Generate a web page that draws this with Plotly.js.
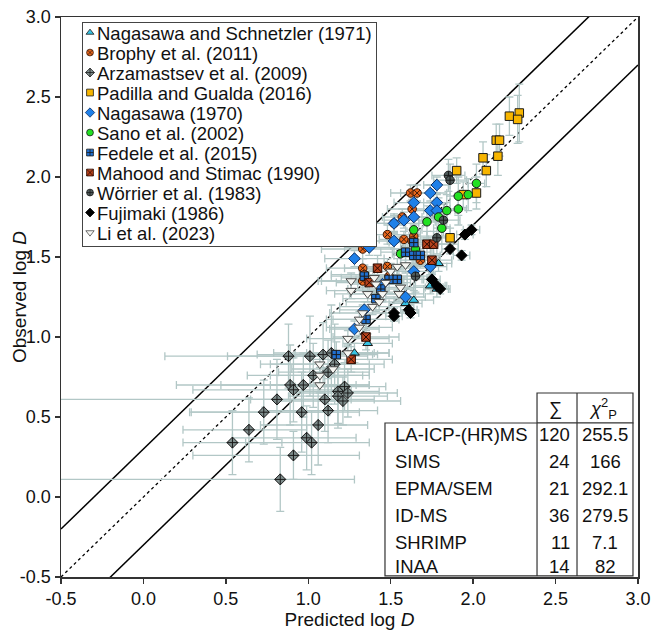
<!DOCTYPE html>
<html>
<head>
<meta charset="utf-8">
<script src="https://cdn.plot.ly/plotly-3.0.1.min.js"></script>
<style>html,body{margin:0;padding:0;background:#fff;}</style>
</head>
<body>
<div id="chart" style="width:666px;height:632px;"></div>
<script>
// ---------------- DATA ----------------
const seriesNames = ["Nagasawa and Schnetzler (1971)", "Brophy et al. (2011)", "Arzamastsev et al. (2009)",
  "Padilla and Gualda (2016)", "Nagasawa (1970)", "Sano et al. (2002)", "Fedele et al. (2015)",
  "Mahood and Stimac (1990)", "Wörrier et al. (1983)", "Fujimaki (1986)", "Li et al. (2023)"];

const nsX = [1.74, 1.78, 1.64, 1.59, 1.79, 1.36, 1.28];
const nsY = [1.32, 1.30, 1.23, 1.21, 1.46, 0.96, 0.90];
const nsXErr = [0.10, 0.08, 0.12, 0.10, 0.08, 0.15, 0.12];
const nsYErr = [0.05, 0.05, 0.06, 0.05, 0.05, 0.06, 0.06];

const brX = [1.62, 1.66, 1.63, 1.57, 1.52, 1.48, 1.58, 1.64, 1.33, 1.48, 1.33, 1.34, 1.33, 1.49, 1.68, 1.63];
const brY = [1.90, 1.90, 1.80, 1.75, 1.71, 1.64, 1.61, 1.63, 1.55, 1.44, 1.43, 1.39, 1.35, 1.38, 1.48, 1.60];
const brXErr = [0.12, 0.10, 0.15, 0.12, 0.18, 0.20, 0.15, 0.12, 0.25, 0.15, 0.22, 0.20, 0.25, 0.18, 0.12, 0.15];
const brYErr = [0.05, 0.05, 0.06, 0.05, 0.06, 0.06, 0.05, 0.05, 0.06, 0.05, 0.06, 0.05, 0.06, 0.05, 0.05, 0.05];

const arX = [0.88, 1.01, 1.09, 1.14, 1.16, 1.03, 1.12, 0.89, 0.91, 0.97, 0.81, 1.10, 1.22, 1.24, 1.18, 1.18, 1.21, 0.73, 0.96, 1.12, 0.64, 1.06, 0.54, 0.99, 1.02, 0.91, 0.83];
const arY = [0.88, 0.88, 0.89, 0.90, 0.83, 0.76, 0.78, 0.70, 0.67, 0.70, 0.61, 0.61, 0.69, 0.65, 0.66, 0.63, 0.60, 0.53, 0.53, 0.54, 0.42, 0.45, 0.34, 0.37, 0.34, 0.26, 0.11];
const arXErrMinus = [0.75, 0.50, 0.40, 0.35, 0.45, 0.40, 0.30, 0.69, 0.61, 0.50, 1.75, 0.45, 0.30, 0.35, 0.25, 0.30, 0.40, 0.45, 0.67, 0.40, 0.40, 0.35, 0.30, 0.45, 0.40, 0.61, 1.80];
const arXErrPlus = [0.30, 0.35, 0.30, 0.35, 0.30, 0.30, 0.25, 0.40, 0.35, 0.40, 0.45, 0.30, 0.25, 0.30, 0.25, 0.30, 0.35, 0.40, 0.35, 0.30, 0.35, 0.30, 0.30, 0.30, 0.35, 0.40, 0.45];
const arYErr = [0.20, 0.25, 0.20, 0.30, 0.25, 0.20, 0.20, 0.25, 0.20, 0.20, 0.25, 0.20, 0.15, 0.15, 0.20, 0.20, 0.15, 0.20, 0.25, 0.20, 0.20, 0.25, 0.20, 0.20, 0.20, 0.15, 0.20];

const pgX = [2.22, 2.28, 2.27, 2.14, 2.16, 2.06, 2.15, 2.08, 1.90, 2.02, 1.94, 1.86];
const pgY = [2.38, 2.40, 2.36, 2.23, 2.23, 2.12, 2.13, 2.04, 2.04, 1.90, 1.89, 1.62];
const pgXErr = [0, 0, 0, 0, 0, 0, 0, 0, 0, 0, 0, 0];
const pgYErr = [0.12, 0.18, 0.15, 0.10, 0.10, 0.10, 0.12, 0.10, 0.08, 0.10, 0.08, 0.06];

const naX = [1.78, 1.74, 1.64, 1.78, 1.74, 1.78, 1.64, 1.58, 1.52, 1.52, 1.37, 1.28, 1.74, 1.64, 1.59, 1.28, 1.34, 1.45];
const naY = [1.95, 1.90, 1.84, 1.84, 1.79, 1.79, 1.75, 1.73, 1.71, 1.60, 1.56, 1.49, 1.44, 1.41, 1.25, 1.05, 1.17, 1.33];
const naXErr = [0.08, 0.10, 0.12, 0.08, 0.10, 0.08, 0.12, 0.12, 0.15, 0.12, 0.15, 0.18, 0.10, 0.12, 0.12, 0.15, 0.15, 0.15];
const naYErr = [0.05, 0.05, 0.05, 0.05, 0.05, 0.05, 0.05, 0.05, 0.05, 0.05, 0.05, 0.05, 0.05, 0.05, 0.05, 0.05, 0.05, 0.05];

const saX = [2.02, 1.97, 1.91, 1.91, 1.84, 1.79, 1.72, 1.81, 1.64, 1.65, 1.56];
const saY = [1.96, 1.89, 1.88, 1.80, 1.79, 1.75, 1.72, 1.68, 1.67, 1.55, 1.52];
const saXErr = [0.05, 0.05, 0.05, 0.05, 0.05, 0.05, 0.05, 0.05, 0.05, 0.05, 0.05];
const saYErr = [0.12, 0.10, 0.12, 0.10, 0.10, 0.12, 0.10, 0.10, 0.12, 0.10, 0.10];

const feX = [1.64, 1.59, 1.64, 1.68, 1.49, 1.54, 1.41, 1.35, 1.34, 1.17, 1.44];
const feY = [1.59, 1.53, 1.51, 1.51, 1.36, 1.36, 1.24, 1.11, 1.38, 0.89, 1.30];
const feXErr = [0.15, 0.15, 0.12, 0.12, 0.20, 0.18, 0.20, 0.20, 0.20, 0.25, 0.20];
const feYErr = [0.07, 0.07, 0.06, 0.06, 0.08, 0.07, 0.08, 0.07, 0.07, 0.08, 0.07];

const maX = [1.72, 1.76, 1.75, 1.42, 1.35, 1.26, 1.37];
const maY = [1.58, 1.58, 1.48, 1.43, 1.00, 0.86, 1.34];
const maXErr = [0.15, 0.15, 0.12, 0.20, 0.20, 0.25, 0.20];
const maYErr = [0.08, 0.08, 0.08, 0.08, 0.08, 0.08, 0.08];

const woX = [1.85, 1.86, 1.82, 1.78, 1.65];
const woY = [2.01, 1.98, 1.73, 1.62, 1.38];
const woXErr = [0.10, 0.10, 0.10, 0.10, 0.10];
const woYErr = [0.10, 0.10, 0.10, 0.10, 0.10];

const fuX = [1.99, 1.95, 1.93, 1.86, 1.75, 1.78, 1.80, 1.61, 1.62, 1.52, 1.52];
const fuY = [1.67, 1.64, 1.51, 1.55, 1.36, 1.32, 1.30, 1.17, 1.15, 1.15, 1.13];
const fuXErr = [0.05, 0.05, 0.05, 0.05, 0.05, 0.05, 0.05, 0.05, 0.05, 0.05, 0.05];
const fuYErr = [0.03, 0.03, 0.03, 0.03, 0.03, 0.03, 0.03, 0.03, 0.03, 0.03, 0.03];

const liX = [1.26, 1.26, 1.40, 1.41, 1.50, 1.54, 1.59, 1.45, 1.55, 1.39, 1.33, 1.31, 1.31, 1.24, 1.24, 1.07, 1.07, 1.07, 1.15, 1.47, 1.56, 1.43, 1.36];
const liY = [1.35, 1.29, 1.37, 1.33, 1.41, 1.44, 1.45, 1.27, 1.27, 1.19, 1.15, 1.11, 1.06, 0.99, 0.90, 0.83, 0.76, 0.70, 0.80, 1.34, 1.31, 1.22, 1.27];
const liXErr = [0.20, 0.15, 0.20, 0.15, 0.15, 0.12, 0.12, 0.20, 0.15, 0.20, 0.20, 0.20, 0.20, 0.25, 0.25, 0.30, 0.30, 0.30, 0.25, 0.15, 0.15, 0.20, 0.20];
const liYErr = [0.05, 0.05, 0.05, 0.05, 0.05, 0.05, 0.05, 0.05, 0.05, 0.05, 0.05, 0.05, 0.05, 0.05, 0.05, 0.05, 0.05, 0.05, 0.05, 0.05, 0.05, 0.05, 0.05];

// reference lines: 1:1 and +/-0.3 log units
const guideX = [-0.5, 3.0];
const guideOffsets = [0.3, 0, -0.3];

// axis ticks
const tickVals = [-0.5, 0, 0.5, 1, 1.5, 2, 2.5, 3];
const tickText = ["-0.5", "0.0", "0.5", "1.0", "1.5", "2.0", "2.5", "3.0"];

// inset table
const methods = ["LA-ICP-(HR)MS", "SIMS", "EPMA/SEM", "ID-MS", "SHRIMP", "INAA"];
const methodN = ["120", "24", "21", "36", "11", "14"];
const methodChi = ["255.5", "166", "292.1", "279.5", "7.1", "82"];

// ---------------- STYLES ----------------
const FONT = "Liberation Sans, Arial, Helvetica, sans-serif";
const ERRC = "#b2c7c6";
const seriesData = [
  {x: nsX, y: nsY, ex: nsXErr, ey: nsYErr, sym: "triangle-up", fill: "#36c2e2", line: "#1a1a1a", size: 8.5},
  {x: brX, y: brY, ex: brXErr, ey: brYErr, sym: "circle-x", fill: "#e8661c", line: "#3a1a0a", size: 8.5},
  {x: arX, y: arY, ex: arXErrPlus, exm: arXErrMinus, ey: arYErr, sym: "diamond-cross", fill: "#7f8e8d", line: "#1a1a1a", size: 8.5},
  {x: pgX, y: pgY, ex: pgXErr, ey: pgYErr, sym: "square", fill: "#f7b500", line: "#1a1a1a", size: 8.5},
  {x: naX, y: naY, ex: naXErr, ey: naYErr, sym: "diamond", fill: "#1f80e8", line: "#0d2f66", size: 9},
  {x: saX, y: saY, ex: saXErr, ey: saYErr, sym: "circle", fill: "#22e022", line: "#1a1a1a", size: 8.5},
  {x: feX, y: feY, ex: feXErr, ey: feYErr, sym: "square-cross", fill: "#2070d0", line: "#1a1a1a", size: 8.5},
  {x: maX, y: maY, ex: maXErr, ey: maYErr, sym: "square-x", fill: "#b8421c", line: "#2a0a00", size: 8.5},
  {x: woX, y: woY, ex: woXErr, ey: woYErr, sym: "circle-cross", fill: "#505c5c", line: "#1a1a1a", size: 8.5},
  {x: fuX, y: fuY, ex: fuXErr, ey: fuYErr, sym: "diamond", fill: "#000000", line: "#000000", size: 8.5},
  {x: liX, y: liY, ex: liXErr, ey: liYErr, sym: "triangle-down", fill: "#f6f6f2", line: "#4a4a4a", size: 9}
];

const traces = [];
// guide lines
guideOffsets.forEach(function (off) {
  traces.push({
    type: "scatter", mode: "lines", x: guideX, y: guideX.map(function (v) { return v + off; }),
    line: {color: "#000", width: off === 0 ? 1.3 : 1.5, dash: off === 0 ? "dot" : "solid"},
    showlegend: false, hoverinfo: "skip"
  });
});
// error bars (behind all markers)
seriesData.forEach(function (s, i) {
  const ex = {type: "data", symmetric: !s.exm, array: s.ex, color: ERRC, thickness: 1.3, width: 4};
  if (s.exm) ex.arrayminus = s.exm;
  traces.push({
    type: "scatter", mode: "markers", x: s.x, y: s.y,
    marker: {opacity: 0, size: 2}, showlegend: false, hoverinfo: "skip",
    cliponaxis: i !== 2,
    error_x: ex,
    error_y: {type: "data", array: s.ey, color: ERRC, thickness: 1.3, width: 4}
  });
});
// markers
seriesData.forEach(function (s, i) {
  traces.push({
    type: "scatter", mode: "markers", name: seriesNames[i], x: s.x, y: s.y,
    marker: {symbol: s.sym, color: s.fill, size: s.size, line: {color: s.line, width: 1}}
  });
});

// table (paper coordinates of the plot area)
const shapes = [];
const annotations = [];
const tL = 0.5615, tC1 = 0.825, tC2 = 0.8943, tR = 0.9913;
const tTop = 0.3286, tMid = 0.275, tBot = 0.002;
const boxLine = {color: "#333", width: 1.2};
shapes.push({type: "rect", xref: "paper", yref: "paper", x0: tC1, x1: tR, y0: tMid, y1: tTop, fillcolor: "#fff", line: boxLine, layer: "above"});
shapes.push({type: "rect", xref: "paper", yref: "paper", x0: tL, x1: tR, y0: tBot, y1: tMid, fillcolor: "#fff", line: boxLine, layer: "above"});
shapes.push({type: "line", xref: "paper", yref: "paper", x0: tC1, x1: tC1, y0: tBot, y1: tMid, line: boxLine, layer: "above"});
shapes.push({type: "line", xref: "paper", yref: "paper", x0: tC2, x1: tC2, y0: tBot, y1: tTop, line: boxLine, layer: "above"});

const tFont = {family: FONT, size: 18.5, color: "#111"};
const rowY = [0.2545, 0.2065, 0.1585, 0.1105, 0.0625, 0.0185];
methods.forEach(function (m, i) {
  annotations.push({xref: "paper", yref: "paper", x: 0.5754, y: rowY[i], xanchor: "left", yanchor: "middle", text: m, showarrow: false, font: tFont});
  annotations.push({xref: "paper", yref: "paper", x: 0.8855, y: rowY[i], xanchor: "right", yanchor: "middle", text: methodN[i], showarrow: false, font: tFont});
  annotations.push({xref: "paper", yref: "paper", x: 0.943, y: rowY[i], xanchor: "center", yanchor: "middle", text: methodChi[i], showarrow: false, font: tFont});
});
annotations.push({xref: "paper", yref: "paper", x: 0.857, y: 0.301, xanchor: "center", yanchor: "middle", text: "∑", showarrow: false, font: tFont});
annotations.push({xref: "paper", yref: "paper", x: 0.94, y: 0.301, xanchor: "center", yanchor: "middle", text: "<i>χ</i><sup>2</sup><sub>P</sub>", showarrow: false, font: tFont});

const axisCommon = {
  range: [-0.5, 3.0], tickmode: "array", tickvals: tickVals, ticktext: tickText,
  showgrid: false, zeroline: false, showline: true, mirror: true,
  linecolor: "#333", linewidth: 1.5, ticks: "outside", ticklen: 5, tickwidth: 1.5, tickcolor: "#333",
  tickfont: {family: FONT, size: 18, color: "#111"}
};

const layout = {
  width: 666, height: 632,
  margin: {l: 61, r: 28, t: 17, b: 55},
  paper_bgcolor: "#fff", plot_bgcolor: "#fff",
  font: {family: FONT, color: "#111"},
  xaxis: Object.assign({}, axisCommon, {title: {text: "Predicted log <i>D</i>", font: {family: FONT, size: 19, color: "#111"}, standoff: 0}}),
  yaxis: Object.assign({}, axisCommon, {title: {text: "Observed log <i>D</i>", font: {family: FONT, size: 19, color: "#111"}, standoff: 2}}),
  showlegend: true,
  legend: {
    x: 0.0364, y: 0.991, xanchor: "left", yanchor: "top",
    bgcolor: "#fff", bordercolor: "#444", borderwidth: 1,
    font: {family: FONT, size: 18.5, color: "#111"}
  },
  shapes: shapes,
  annotations: annotations
};

function fixLayout(gd) {
  const leg = gd.querySelector(".legend");
  if (leg) {
    const bg = leg.querySelector("rect.bg");
    if (bg) { bg.setAttribute("width", 294); bg.setAttribute("height", 224); }
    const items = leg.querySelectorAll("g.traces");
    items.forEach(function (g, i) {
      g.setAttribute("transform", "translate(1," + (10.5 + 20 * i) + ")");
      const t = g.querySelector("text.legendtext");
      if (t) t.setAttribute("x", 14);
      g.querySelectorAll("path.scatterpts").forEach(function (p) {
        p.setAttribute("transform", "translate(7,0) scale(0.8)");
      });
    });
  }
  const yt = gd.querySelector(".g-ytitle");
  if (yt) yt.setAttribute("transform", "translate(14,0)");
}

const gd = document.getElementById("chart");
Plotly.newPlot(gd, traces, layout, {displayModeBar: false, staticPlot: true}).then(function () { fixLayout(gd); });
</script>
</body>
</html>
